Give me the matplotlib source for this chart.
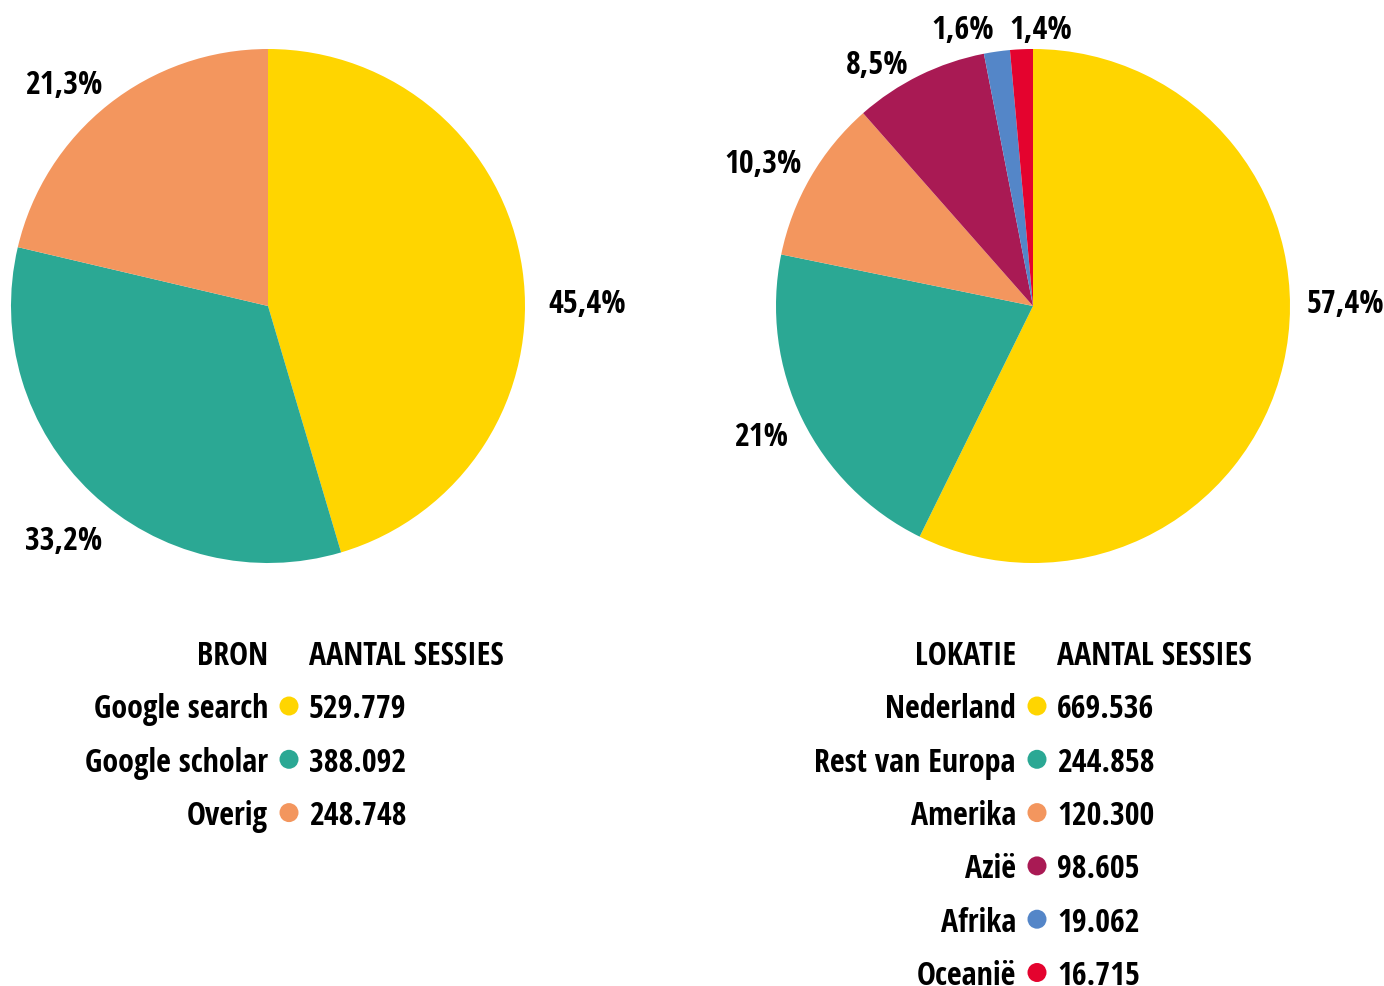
import matplotlib
matplotlib.use("Agg")
import matplotlib.pyplot as plt
from matplotlib import font_manager
from matplotlib.patches import Circle

# pick a condensed bold font if one is installed
names = sorted({f.name for f in font_manager.fontManager.ttflist})
FONT = "DejaVu Sans"
for cand in ["Open Sans Condensed", "Roboto Condensed", "Liberation Sans Narrow",
             "DejaVu Sans Condensed"]:
    if cand in names:
        FONT = cand
        break
plt.rcParams["font.family"] = [FONT, "DejaVu Sans"]
plt.rcParams["font.weight"] = "bold"

# data
bron = ["Google search", "Google scholar", "Overig"]
bron_sessies = [529779, 388092, 248748]
bron_pct = ["45,4%", "33,2%", "21,3%"]

lokatie = ["Nederland", "Rest van Europa", "Amerika", "Azië", "Afrika", "Oceanië"]
lokatie_sessies = [669536, 244858, 120300, 98605, 19062, 16715]
lokatie_pct = ["57,4%", "21%", "10,3%", "8,5%", "1,6%", "1,4%"]

COLORS = ["#FFD500", "#2BA894", "#F3965E", "#A91A54", "#5486C8", "#E4032E"]

W, H = 1384, 987
fig = plt.figure(figsize=(W / 100, H / 100), dpi=100)
ax = fig.add_axes([0, 0, 1, 1])
ax.set_xlim(0, W)
ax.set_ylim(0, H)
ax.set_aspect("equal")
ax.axis("off")

R = 257
FS = 23
DY = 3  # text baseline nudge (px)


def py(y):
    return H - y


def pie_block(cx, values, pcts, labpos, names, sessies, header, key_x):
    ax.pie(values, colors=COLORS[:len(values)], startangle=90, counterclock=False,
           center=(cx, py(307)), radius=R, frame=True,
           wedgeprops=dict(linewidth=0))
    for txt, (x, y) in zip(pcts, labpos):
        ax.text(x, py(y + DY), txt, ha="center", va="center", fontsize=FS,
                fontweight="bold")
    # legend table
    ax.text(key_x, py(654 + DY), header, ha="right", va="center", fontsize=FS,
            fontweight="bold")
    ax.text(key_x + 41, py(654 + DY), "AANTAL SESSIES", ha="left", va="center",
            fontsize=FS, fontweight="bold")
    for i, (n, s) in enumerate(zip(names, sessies)):
        y = 707 + i * 53.3
        ax.text(key_x, py(y + DY), n, ha="right", va="center", fontsize=FS,
                fontweight="bold")
        ax.add_patch(Circle((key_x + 21, py(y)), 9.5, color=COLORS[i], lw=0))
        ax.text(key_x + 41, py(y + DY), f"{s:,}".replace(",", "."), ha="left",
                va="center", fontsize=FS, fontweight="bold")


pie_block(268, bron_sessies, bron_pct,
          [(587, 302), (64, 539), (64, 83)],
          bron, bron_sessies, "BRON", 268)
pie_block(1033, lokatie_sessies, lokatie_pct,
          [(1345, 302), (761, 435), (763, 162), (877, 63), (963, 28), (1041, 28)],
          lokatie, lokatie_sessies, "LOKATIE", 1016)

ax.set_xlim(0, W)
ax.set_ylim(0, H)
ax.axis("off")
fig.savefig("out.png", dpi=100)
